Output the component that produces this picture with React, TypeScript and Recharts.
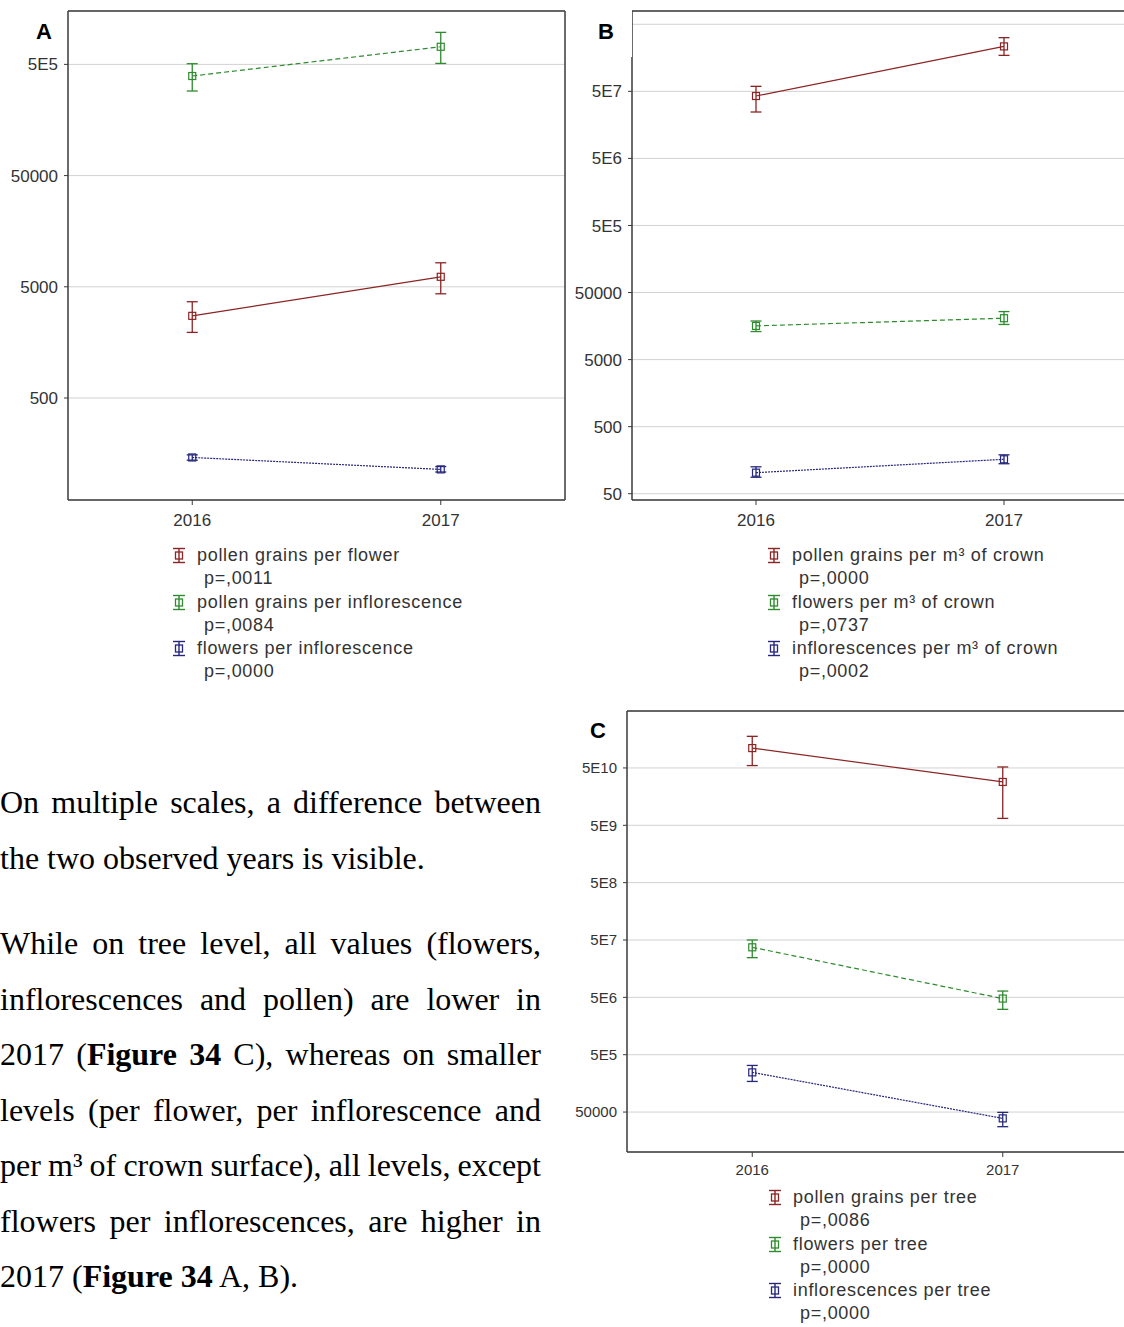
import React from 'react';
import { LineChart, Line, XAxis, YAxis, CartesianGrid, ErrorBar } from 'recharts';

const YEARS = [2016, 2017];
const X_DOMAIN = [2015.5, 2017.5];

// A: per flower / per inflorescence
const A_POLLEN_FLOWER = [2740, 6150];
const A_POLLEN_FLOWER_LO = [1945, 4325];
const A_POLLEN_FLOWER_HI = [3670, 8220];
const A_POLLEN_INFL = [393000, 720000];
const A_POLLEN_INFL_LO = [288000, 510000];
const A_POLLEN_INFL_HI = [507000, 970000];
const A_FLOWERS_INFL = [146, 114];
const A_FLOWERS_INFL_LO = [138, 108];
const A_FLOWERS_INFL_HI = [154, 121];
const A_TICKS = [500, 5000, 50000, 500000];
const A_TICK_LABELS = ['500', '5000', '50000', '5E5'];
const A_DOMAIN = [60.5, 1.51e6];

// B: per m3 of crown (top gridline label is hidden behind the panel letter)
const B_POLLEN_M3 = [4.26e7, 2.34e8];
const B_POLLEN_M3_LO = [2.46e7, 1.72e8];
const B_POLLEN_M3_HI = [5.94e7, 3.16e8];
const B_FLOWERS_M3 = [15900, 20700];
const B_FLOWERS_M3_LO = [13100, 16700];
const B_FLOWERS_M3_HI = [18800, 26000];
const B_INFL_M3 = [103, 163];
const B_INFL_M3_LO = [88, 140];
const B_INFL_M3_HI = [126, 190];
const B_TICKS = [50, 500, 5000, 50000, 5e5, 5e6, 5e7, 5e8];
const B_TICK_LABELS = ['50', '500', '5000', '50000', '5E5', '5E6', '5E7', ''];
const B_DOMAIN = [40.3, 7.89e8];

// C: per tree
const C_POLLEN_TREE = [1.11e11, 2.85e10];
const C_POLLEN_TREE_LO = [5.5e10, 6.6e9];
const C_POLLEN_TREE_HI = [1.78e11, 5.2e10];
const C_FLOWERS_TREE = [3.73e7, 4.76e6];
const C_FLOWERS_TREE_LO = [2.46e7, 3.09e6];
const C_FLOWERS_TREE_HI = [5.0e7, 6.44e6];
const C_INFL_TREE = [2.46e5, 3.88e4];
const C_INFL_TREE_LO = [1.71e5, 2.78e4];
const C_INFL_TREE_HI = [3.25e5, 4.94e4];
const C_TICKS = [5e4, 5e5, 5e6, 5e7, 5e8, 5e9, 5e10];
const C_TICK_LABELS = ['50000', '5E5', '5E6', '5E7', '5E8', '5E9', '5E10'];
const C_DOMAIN = [10060, 4.92e11];

const RED = '#8b2424';
const GREEN = '#2e8b2e';
const BLUE = '#26267c';
const FRAME = '#3a3a3a';
const GRID = '#d2d2d2';
const SANS = '"Liberation Sans", Arial, sans-serif';
const SERIF = '"Liberation Serif", "Times New Roman", serif';

interface Series {
  key: string;
  label: string;
  p: string;
  color: string;
  dash?: string;
  mean: number[];
  lo: number[];
  hi: number[];
}

const A_SERIES: Series[] = [
  { key: 'pf', label: 'pollen grains per flower', p: ',0011', color: RED, mean: A_POLLEN_FLOWER, lo: A_POLLEN_FLOWER_LO, hi: A_POLLEN_FLOWER_HI },
  { key: 'pi', label: 'pollen grains per inflorescence', p: ',0084', color: GREEN, dash: '5 3', mean: A_POLLEN_INFL, lo: A_POLLEN_INFL_LO, hi: A_POLLEN_INFL_HI },
  { key: 'fi', label: 'flowers per inflorescence', p: ',0000', color: BLUE, dash: '2 1', mean: A_FLOWERS_INFL, lo: A_FLOWERS_INFL_LO, hi: A_FLOWERS_INFL_HI },
];

const B_SERIES: Series[] = [
  { key: 'pm', label: 'pollen grains per m³ of crown', p: ',0000', color: RED, mean: B_POLLEN_M3, lo: B_POLLEN_M3_LO, hi: B_POLLEN_M3_HI },
  { key: 'fm', label: 'flowers per m³ of crown', p: ',0737', color: GREEN, dash: '5 3', mean: B_FLOWERS_M3, lo: B_FLOWERS_M3_LO, hi: B_FLOWERS_M3_HI },
  { key: 'im', label: 'inflorescences per m³ of crown', p: ',0002', color: BLUE, dash: '2 1', mean: B_INFL_M3, lo: B_INFL_M3_LO, hi: B_INFL_M3_HI },
];

const C_SERIES: Series[] = [
  { key: 'pt', label: 'pollen grains per tree', p: ',0086', color: RED, mean: C_POLLEN_TREE, lo: C_POLLEN_TREE_LO, hi: C_POLLEN_TREE_HI },
  { key: 'ft', label: 'flowers per tree', p: ',0000', color: GREEN, dash: '5 3', mean: C_FLOWERS_TREE, lo: C_FLOWERS_TREE_LO, hi: C_FLOWERS_TREE_HI },
  { key: 'it', label: 'inflorescences per tree', p: ',0000', color: BLUE, dash: '2 1', mean: C_INFL_TREE, lo: C_INFL_TREE_LO, hi: C_INFL_TREE_HI },
];

function buildRows(series: Series[]) {
  return YEARS.map((year, i) => {
    const row: any = { year };
    series.forEach((s) => {
      row[s.key] = s.mean[i];
      row[s.key + 'Err'] = [s.mean[i] - s.lo[i], s.hi[i] - s.mean[i]];
    });
    return row;
  });
}

const squareDot = (color: string) => (props: any) => {
  const { cx, cy, index } = props;
  if (cx == null || cy == null) return <g key={`d-${index}`} />;
  return (
    <rect
      key={`d-${index}`}
      x={cx - 3.5}
      y={cy - 3.5}
      width={7}
      height={7}
      fill="none"
      stroke={color}
      strokeWidth={1.2}
    />
  );
};

interface PanelProps {
  left: number;
  top: number;
  width: number;
  height: number;
  yAxisWidth: number;
  fontSize: number;
  xTickMargin: number;
  domain: number[];
  ticks: number[];
  tickLabels: string[];
  series: Series[];
}

function Panel(p: PanelProps) {
  const data = buildRows(p.series);
  const fmt = (v: number) => {
    const i = p.ticks.indexOf(v);
    return i >= 0 ? p.tickLabels[i] : '';
  };
  const axisLine = { stroke: FRAME, strokeWidth: 1.5 };
  const tickStyle = { fill: '#333', fontSize: p.fontSize, fontFamily: SANS };
  return (
    <div style={{ position: 'absolute', left: p.left, top: p.top }}>
      <LineChart
        width={p.width}
        height={p.height}
        data={data}
        margin={{ top: 10, right: 10, bottom: 0, left: 0 }}
      >
        <CartesianGrid vertical={false} stroke={GRID} strokeWidth={1} />
        <XAxis
          dataKey="year"
          type="number"
          domain={X_DOMAIN}
          ticks={YEARS}
          allowDataOverflow
          height={35}
          axisLine={axisLine}
          tickLine={{ stroke: FRAME }}
          tickSize={5}
          tickMargin={p.xTickMargin}
          tick={tickStyle}
        />
        <XAxis
          xAxisId="t"
          orientation="top"
          dataKey="year"
          type="number"
          domain={X_DOMAIN}
          ticks={YEARS}
          allowDataOverflow
          height={1}
          axisLine={axisLine}
          tickLine={{ stroke: FRAME }}
          tickSize={4}
          tick={false}
        />
        <YAxis
          scale="log"
          type="number"
          domain={p.domain}
          ticks={p.ticks}
          allowDataOverflow
          width={p.yAxisWidth}
          axisLine={axisLine}
          tickLine={{ stroke: FRAME }}
          tickSize={4}
          tickMargin={6}
          tick={tickStyle}
          tickFormatter={fmt}
        />
        <YAxis
          yAxisId="r"
          orientation="right"
          scale="log"
          type="number"
          domain={p.domain}
          ticks={p.ticks}
          allowDataOverflow
          width={1}
          axisLine={axisLine}
          tickLine={{ stroke: FRAME }}
          tickSize={4}
          tick={false}
        />
        {p.series.map((s) => (
          <Line
            key={s.key}
            type="linear"
            dataKey={s.key}
            stroke={s.color}
            strokeWidth={1.2}
            strokeDasharray={s.dash}
            dot={squareDot(s.color)}
            activeDot={false}
            isAnimationActive={false}
          >
            <ErrorBar
              dataKey={s.key + 'Err'}
              direction="y"
              width={5.5}
              stroke={s.color}
              strokeWidth={1.3}
              isAnimationActive={false}
            />
          </Line>
        ))}
      </LineChart>
    </div>
  );
}

function LegendIcon({ color }: { color: string }) {
  return (
    <svg width={14} height={17} style={{ position: 'absolute', left: -25, top: 3 }}>
      <line x1={1} y1={1.5} x2={13} y2={1.5} stroke={color} strokeWidth={1.4} />
      <line x1={1} y1={15.5} x2={13} y2={15.5} stroke={color} strokeWidth={1.4} />
      <line x1={7} y1={1.5} x2={7} y2={15.5} stroke={color} strokeWidth={1.4} />
      <rect x={3.5} y={5} width={7} height={7} fill="none" stroke={color} strokeWidth={1.3} />
    </svg>
  );
}

function LegendBlock({ left, top, series }: { left: number; top: number; series: Series[] }) {
  return (
    <div
      style={{
        position: 'absolute',
        left,
        top,
        fontFamily: SANS,
        fontSize: 18,
        letterSpacing: 0.7,
        lineHeight: '23.3px',
        color: '#333',
        whiteSpace: 'nowrap',
      }}
    >
      {series.map((s) => (
        <React.Fragment key={s.key}>
          <div style={{ position: 'relative', height: 23.3 }}>
            <LegendIcon color={s.color} />
            {s.label}
          </div>
          <div style={{ paddingLeft: 7, height: 23.3 }}>p={s.p}</div>
        </React.Fragment>
      ))}
    </div>
  );
}

function PanelLabel({ left, top, text }: { left: number; top: number; text: string }) {
  return (
    <div
      style={{
        position: 'absolute',
        left,
        top,
        fontFamily: SANS,
        fontWeight: 'bold',
        fontSize: 22,
        lineHeight: '22px',
        color: '#000',
      }}
    >
      {text}
    </div>
  );
}

const LINE_H = 55.5;

function TextLine({
  top,
  justify,
  wordSpacing,
  children,
}: {
  top: number;
  justify?: boolean;
  wordSpacing?: number;
  children: React.ReactNode;
}) {
  return (
    <div
      style={{
        position: 'absolute',
        left: 0,
        top,
        width: 541,
        height: LINE_H,
        lineHeight: `${LINE_H}px`,
        fontFamily: SERIF,
        fontSize: 32,
        color: '#000',
        whiteSpace: 'nowrap',
        textAlign: justify ? 'justify' : 'left',
        textAlignLast: justify ? 'justify' : 'left',
        wordSpacing: wordSpacing ?? 0,
      }}
    >
      {children}
    </div>
  );
}

export default function App() {
  const p1 = 775;
  const p2 = 916;
  return (
    <div
      style={{
        position: 'relative',
        width: 1124,
        height: 1327,
        overflow: 'hidden',
        background: '#fff',
      }}
    >
      <style>{'body{margin:0;}'}</style>
      <Panel
        left={0}
        top={0}
        width={576}
        height={535}
        yAxisWidth={68}
        fontSize={17}
        xTickMargin={9}
        domain={A_DOMAIN}
        ticks={A_TICKS}
        tickLabels={A_TICK_LABELS}
        series={A_SERIES}
      />
      <Panel
        left={560}
        top={0}
        width={579}
        height={535}
        yAxisWidth={72}
        fontSize={17}
        xTickMargin={9}
        domain={B_DOMAIN}
        ticks={B_TICKS}
        tickLabels={B_TICK_LABELS}
        series={B_SERIES}
      />
      <Panel
        left={560}
        top={700}
        width={579}
        height={487}
        yAxisWidth={67}
        fontSize={15}
        xTickMargin={7}
        domain={C_DOMAIN}
        ticks={C_TICKS}
        tickLabels={C_TICK_LABELS}
        series={C_SERIES}
      />

      {/* white patch behind the B label */}
      <div style={{ position: 'absolute', left: 567, top: 0, width: 65, height: 57, background: '#fff' }} />

      <PanelLabel left={36} top={21} text="A" />
      <PanelLabel left={598} top={21} text="B" />
      <PanelLabel left={590} top={720} text="C" />

      <LegendBlock left={197} top={544} series={A_SERIES} />
      <LegendBlock left={792} top={544} series={B_SERIES} />
      <LegendBlock left={793} top={1186} series={C_SERIES} />

      <TextLine top={p1} justify>On multiple scales, a difference between</TextLine>
      <TextLine top={p1 + LINE_H}>the two observed years is visible.</TextLine>

      <TextLine top={p2} justify>While on tree level, all values (flowers,</TextLine>
      <TextLine top={p2 + LINE_H} justify>inflorescences and pollen) are lower in</TextLine>
      <TextLine top={p2 + LINE_H * 2} justify>
        2017 (<b>Figure 34</b> C), whereas on smaller
      </TextLine>
      <TextLine top={p2 + LINE_H * 3} justify>levels (per flower, per inflorescence and</TextLine>
      <TextLine top={p2 + LINE_H * 4} justify wordSpacing={-2}>
        per m³ of crown surface), all levels, except
      </TextLine>
      <TextLine top={p2 + LINE_H * 5} justify>flowers per inflorescences, are higher in</TextLine>
      <TextLine top={p2 + LINE_H * 6}>
        2017 (<b>Figure 34</b> A, B).
      </TextLine>
    </div>
  );
}
